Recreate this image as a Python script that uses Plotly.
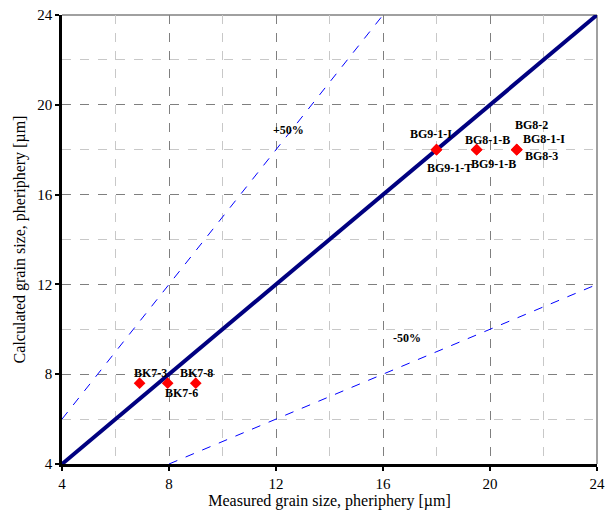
import plotly.graph_objects as go

# Data
sample_names = ["BK7-3", "BK7-6", "BK7-8", "BG9-1-I", "BG9-1-T",
                "BG8-1-B", "BG9-1-B", "BG8-2", "BG8-1-I", "BG8-3"]
measured = [6.9, 7.95, 9.0, 18.0, 18.0, 19.5, 19.5, 21.0, 21.0, 21.0]
calculated = [7.6, 7.6, 7.6, 18.0, 18.0, 18.0, 18.0, 18.0, 18.0, 18.0]

ref_x = [4, 24]
plus_x = [4, 16]
minus_x = [8, 24]
band_labels = ["+50%", "-50%"]
band_label_x = [12.45, 16.9]
band_label_y = [18.9, 9.6]

tick_vals = [4, 8, 12, 16, 20, 24]

# label pixel offsets (styling)
label_dx = [11, 14, 1, -6, 13, 11, 17, 15, 27, 25]
label_dy = [10, -10, 10, 16, -18, 10, -14, 25, 11, -6]

FONT = "Liberation Serif"

fig = go.Figure()

fig.add_trace(go.Scatter(x=ref_x, y=ref_x, mode="lines",
                         line=dict(color="#000080", width=4), showlegend=False))
fig.add_trace(go.Scatter(x=plus_x, y=[v * 1.5 for v in plus_x], mode="lines",
                         line=dict(color="#0000ff", width=1, dash="dash"), showlegend=False))
fig.add_trace(go.Scatter(x=minus_x, y=[v * 0.5 for v in minus_x], mode="lines",
                         line=dict(color="#0000ff", width=1, dash="dash"), showlegend=False))
fig.add_trace(go.Scatter(x=measured, y=calculated, mode="markers",
                         marker=dict(symbol="diamond", color="#ff0000", size=9),
                         showlegend=False))

for name, x, y, dx, dy in zip(sample_names, measured, calculated, label_dx, label_dy):
    fig.add_annotation(x=x, y=y, text=f"<b>{name}</b>", showarrow=False,
                       xshift=dx, yshift=dy,
                       font=dict(family=FONT, size=12, color="black"))

for t, x, y in zip(band_labels, band_label_x, band_label_y):
    fig.add_annotation(x=x, y=y, text=f"<b>{t}</b>", showarrow=False,
                       font=dict(family=FONT, size=12, color="black"))

# top/right gray frame
fig.add_shape(type="line", xref="paper", yref="paper", x0=0, x1=1, y0=1, y1=1,
              line=dict(color="#808080", width=1.5), layer="below")
fig.add_shape(type="line", xref="paper", yref="paper", x0=1, x1=1, y0=0, y1=1,
              line=dict(color="#808080", width=1.5), layer="below")

axis_common = dict(
    range=[4, 24], tickvals=tick_vals, showgrid=True, gridcolor="#7f7f7f",
    griddash="dash", gridwidth=1, zeroline=False, automargin=False,
    showline=True, linecolor="black", linewidth=2.5,
    ticks="outside", ticklen=4, tickwidth=2, tickcolor="black",
    tickfont=dict(family=FONT, size=15, color="black"),
    minor=dict(dtick=2, tick0=4, showgrid=True, gridcolor="#c8c8c8",
               griddash="dash", gridwidth=1, ticks=""),
)

fig.update_layout(
    width=607, height=512,
    margin=dict(l=62, r=10, t=15, b=48),
    plot_bgcolor="white", paper_bgcolor="white",
    xaxis=dict(**axis_common,
               title=dict(text="Measured grain size, pheriphery [µm]",
                          font=dict(family=FONT, size=16, color="black"), standoff=2)),
    yaxis=dict(**axis_common,
               title=dict(text="Calculated grain size, pheriphery [µm]",
                          font=dict(family=FONT, size=16, color="black"), standoff=8)),
)

fig.write_html("out.html",
               config={"displayModeBar": False},
               post_script="document.body.style.margin='0';document.body.style.overflow='hidden';")
